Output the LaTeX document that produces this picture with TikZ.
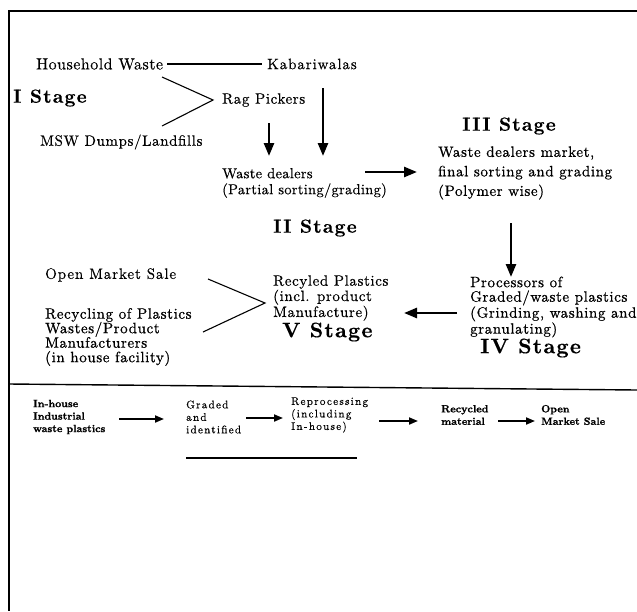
\documentclass[tikz,border=0pt]{standalone}
\usepackage{fontspec}
\setmainfont{lmroman10-regular.otf}[BoldFont=lmroman10-bold.otf,ItalicFont=lmroman10-italic.otf]
\usetikzlibrary{arrows.meta,calc}
% text faces: regular (size, leading, tracking), darker print, stage headings, bottom row
\newcommand\tf[3]{\fontsize{#1}{#2}\selectfont\addfontfeatures{LetterSpace=#3,FakeBold=0.3}}
\newcommand\df[3]{\fontsize{#1}{#2}\selectfont\addfontfeatures{LetterSpace=#3,FakeBold=0.7}}
\newcommand\stagefont[1]{\fontsize{#1}{#1}\selectfont\bfseries\addfontfeatures{LetterSpace=6,FakeBold=0.4}}
\newcommand\bottomfont{\fontsize{11}{12.5}\selectfont\addfontfeatures{LetterSpace=12,FakeBold=0.4}}
\newcommand\bottomboldfont{\fontsize{10.5}{12.5}\selectfont\bfseries\addfontfeatures{FakeBold=1}}
\begin{document}
\begin{tikzpicture}[x=1pt,y=-1pt,
  every node/.style={inner sep=0pt, anchor=west, align=left},
  thin/.style={line width=1.1pt},
  frame/.style={line width=1.4pt},
  bigarrow/.style={line width=2.6pt, -{Triangle[length=13pt,width=10pt]}},
  flatarrow/.style={line width=1.8pt, -{Triangle[length=9pt,width=7pt]}}]
\useasboundingbox (0,0) rectangle (637,611);
\fill[white] (0,0) rectangle (637,611);

% frame and separator
\draw[frame] (637,11) -- (9,11) -- (9,611);
\draw[frame] (9,384) -- (637,390);

% stage I
\node[font=\tf{16}{16}{3}] (hw) at (36,64) {Household Waste};
\node[font=\tf{15}{16}{6}] (kab) at (267,64) {Kabariwalas};
\node[font=\stagefont{19}] (s1) at (13,98) {I Stage};
\node[font=\tf{15}{16}{4}] (rp) at (222,100) {Rag Pickers};
\node[font=\tf{15}{16}{4}] (msw) at (40,142) {MSW Dumps/Landfills};

% stage II and III
\node[font=\tf{14.5}{16}{2}] (wd) at (222,183) {Waste dealers\\(Partial sorting/grading)};
\node[font=\stagefont{19}] (s2) at (273,228) {II Stage};
\node[font=\stagefont{19}] (s3) at (462,126) {III Stage};
\node[font=\df{15}{19.5}{4}] (wdm) at (438,173) {Waste dealers market,\\final sorting and grading\\(Polymer wise)};

% stage IV and V
\node[font=\df{15}{14.5}{4}] (proc) at (470,307) {Processors of\\Graded/waste plastics\\(Grinding, washing and\\granulating)};
\node[font=\stagefont{21}] (s4) at (480,348) {IV Stage};
\node[font=\tf{15}{13}{4}] (rec) at (273,298) {Recyled Plastics\\(incl. product\\Manufacture)};
\node[font=\stagefont{21}] (s5) at (282,332) {V Stage};
\node[font=\tf{15}{15}{6}] (oms) at (45,275) {Open Market Sale};
\node[font=\df{15}{14.5}{4}] (rpw) at (45,337) {Recycling of Plastics\\Wastes/Product\\Manufacturers\\(in house facility)};

% in-house route
\node[font=\bottomboldfont] (ih) at (33,417) {In-house\\Industrial\\waste plastics};
\node[font=\bottomfont] (gr) at (186,417) {Graded\\and\\identified};
\node[font=\bottomfont] (rep) at (291,415) {Reprocessing\\(including\\In-house)};
\node[font=\bottomboldfont] (rcm) at (441,415) {Recycled\\material};
\node[font=\bottomboldfont] (om2) at (541,415) {Open\\Market Sale};

% stage I links
\draw[thin] ($(hw.west)+(131,0)$) -- ($(kab.west)+(-5,0)$);
\draw[thin] ($(hw.west)+(126,13)$) -- ($(rp.west)+(-9,0)$) -- ($(msw.west)+(122,-16)$);

% main flow arrows
\draw[bigarrow] ($(rp.west)+(47,23)$) -- ($(wd.west)+(47,-27)$);
\draw[bigarrow] ($(kab.west)+(56,24)$) -- ($(wd.west)+(101,-27)$);
\draw[bigarrow] ($(wd.west)+(143,-11)$) -- ($(wdm.west)+(-21,-1)$);
\draw[bigarrow] ($(wdm.west)+(73,50)$) -- ($(proc.west)+(41,-30)$);
\draw[bigarrow] ($(proc.west)+(-13,6)$) -- ($(rec.west)+(131,15)$);

% stage V outlets
\draw[thin] ($(oms.west)+(163,4)$) -- ($(rec.west)+(-8,5)$) -- ($(rpw.west)+(158,-5)$);

% in-house route arrows
\draw[flatarrow] ($(ih.west)+(86,2)$) -- ($(gr.west)+(-22,2)$);
\draw[flatarrow] ($(gr.west)+(60,1)$) -- ($(rep.west)+(-8,3)$);
\draw[flatarrow] ($(rep.west)+(88,6)$) -- ($(rcm.west)+(-23,6)$);
\draw[flatarrow] ($(rcm.west)+(57,6)$) -- ($(om2.west)+(-6,6)$);
\draw[thin] ($(gr.west)+(0,41)$) -- ($(rep.west)+(66,43)$);
\end{tikzpicture}
\end{document}
